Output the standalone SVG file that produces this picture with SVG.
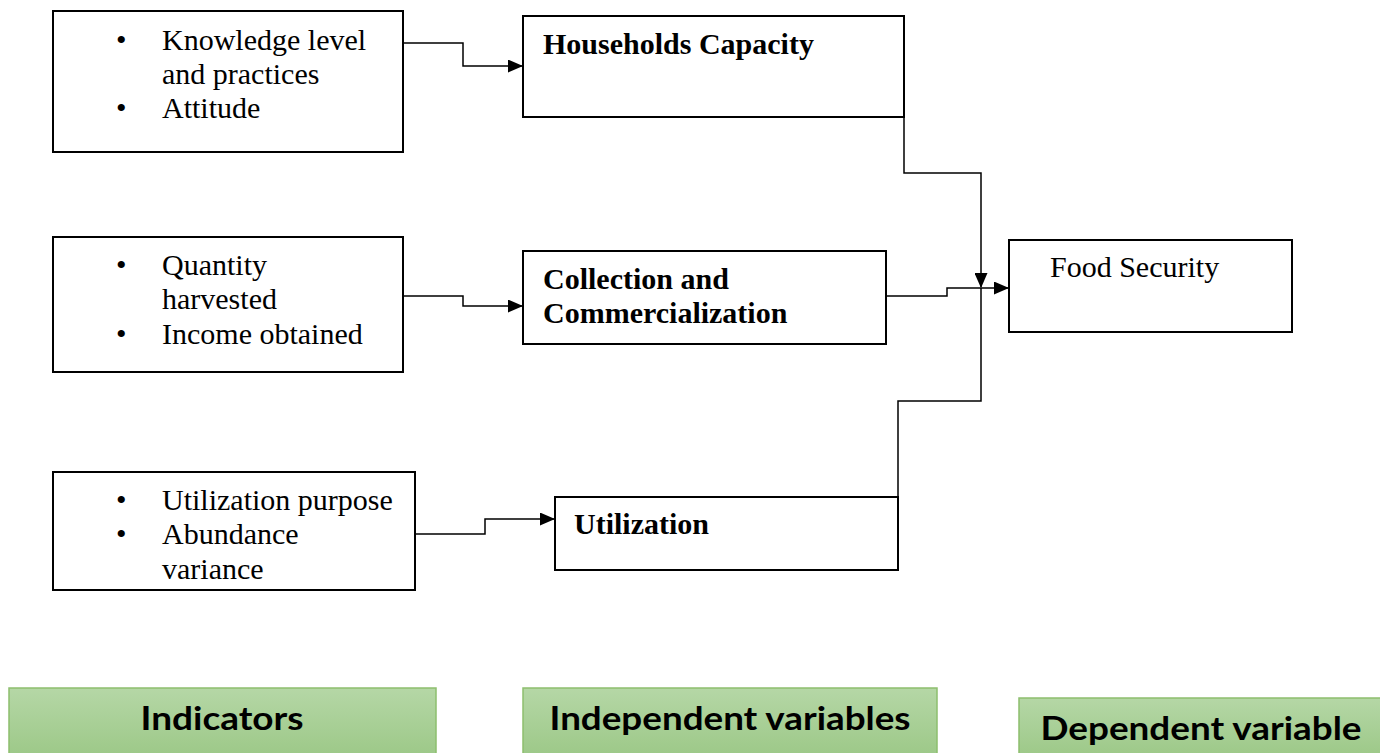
<svg xmlns="http://www.w3.org/2000/svg" width="1380" height="753" viewBox="0 0 1380 753">
<style>
.box{fill:#fff;stroke:#000;stroke-width:2}
.t{font-family:"Liberation Serif","Times New Roman",serif;font-size:30px;fill:#000}
.b{font-family:"Liberation Serif","Times New Roman",serif;font-size:30px;font-weight:bold;fill:#000}
.leg{fill:url(#g);stroke:#8dbf6e;stroke-width:1.5}
.lt{font-family:Lato,"Open Sans",sans-serif;font-weight:bold;font-size:32px;fill:#000;text-anchor:middle}
.c{fill:none;stroke:#000;stroke-width:1.5}
</style>
<defs>
<linearGradient id="g" x1="0" y1="0" x2="0" y2="1">
<stop offset="0" stop-color="#b5d7a6"/>
<stop offset="1" stop-color="#9cc887"/>
</linearGradient>
<marker id="a" markerWidth="15" markerHeight="13" refX="14" refY="6.5" orient="auto" markerUnits="userSpaceOnUse">
<path d="M0,0 L15,6.5 L0,13 Z" fill="#000"/>
</marker>
</defs>
<g id="connectors">
<path class="c" d="M403,43 H463 V66 H522" marker-end="url(#a)"/>
<path class="c" d="M403,296 H463 V306 H522" marker-end="url(#a)"/>
<path class="c" d="M415,534 H485 V519 H554" marker-end="url(#a)"/>
<path class="c" d="M904,117 V173 H981 V287" marker-end="url(#a)"/>
<path class="c" d="M886,296 H947 V288 H1008" marker-end="url(#a)"/>
<path class="c" d="M898,497 V401 H981 V288"/>
</g>
<g id="ind1">
<rect class="box" x="53" y="11" width="350" height="141"/>
<text class="t" x="116" y="50">•</text>
<text class="t" x="162" y="50">Knowledge level</text>
<text class="t" x="162" y="84">and practices</text>
<text class="t" x="116" y="118">•</text>
<text class="t" x="162" y="118">Attitude</text>
</g>
<g id="ind2">
<rect class="box" x="53" y="237" width="350" height="135"/>
<text class="t" x="116" y="275">•</text>
<text class="t" x="162" y="275">Quantity</text>
<text class="t" x="162" y="309">harvested</text>
<text class="t" x="116" y="344">•</text>
<text class="t" x="162" y="344">Income obtained</text>
</g>
<g id="ind3">
<rect class="box" x="53" y="472" width="362" height="118"/>
<text class="t" x="116" y="510">•</text>
<text class="t" x="162" y="510">Utilization purpose</text>
<text class="t" x="116" y="544">•</text>
<text class="t" x="162" y="544">Abundance</text>
<text class="t" x="162" y="579">variance</text>
</g>
<g id="households">
<rect class="box" x="523" y="16" width="381" height="101"/>
<text class="b" x="543" y="54">Households Capacity</text>
</g>
<g id="collection">
<rect class="box" x="523" y="251" width="363" height="93"/>
<text class="b" x="543" y="289">Collection and</text>
<text class="b" x="543" y="323">Commercialization</text>
</g>
<g id="utilization">
<rect class="box" x="555" y="497" width="343" height="73"/>
<text class="b" x="574" y="534">Utilization</text>
</g>
<g id="food">
<rect class="box" x="1009" y="240" width="283" height="92"/>
<text class="t" x="1050" y="277">Food Security</text>
</g>
<g id="legend-indicators">
<rect class="leg" x="9" y="688" width="427" height="70"/>
<text class="lt" x="222" y="730" textLength="163" lengthAdjust="spacingAndGlyphs">Indicators</text>
</g>
<g id="legend-independent">
<rect class="leg" x="523" y="688" width="414" height="70"/>
<text class="lt" x="730" y="730" textLength="361" lengthAdjust="spacingAndGlyphs">Independent variables</text>
</g>
<g id="legend-dependent">
<rect class="leg" x="1019" y="698" width="370" height="60"/>
<text class="lt" x="1201" y="740" textLength="321" lengthAdjust="spacingAndGlyphs">Dependent variable</text>
</g>
</svg>
